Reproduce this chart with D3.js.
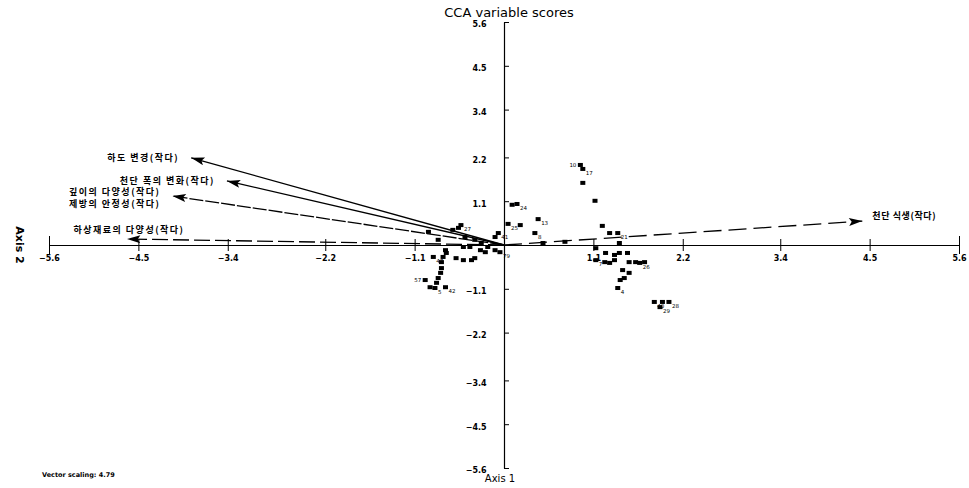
<!DOCTYPE html>
<html><head><meta charset="utf-8">
<script src="https://cdn.jsdelivr.net/npm/d3@7"></script>
<style>body{margin:0;background:#fff}svg{display:block}</style>
</head><body><div id="chart"></div>
<script>
const xTicks = [-5.6,-4.5,-3.4,-2.2,-1.1,1.1,2.2,3.4,4.5,5.6];
const yTicks = [5.6,4.5,3.4,2.2,1.1,-1.1,-2.2,-3.4,-4.5,-5.6];
const vecNames = [["하도 변경(작다)"],["천단 폭의 변화(작다)"],["깊이의 다양성(작다)","제방의 안정성(작다)"],["하상재료의 다양성(작다)"],["천단 식생(작다)"]];
const vecX = [-3.85,-3.41,-4.08,-4.64,4.41];
const vecY = [2.19,1.61,1.23,0.15,0.60];
const siteLabel = ["10","17","","","","24","25","","13","8","","","","","21","","","7","","","","","","","","","","26","","","","","","4","40","","28","29",
 "","","27","41","","","","","","","79","","","","","","","","47","","","","","","57","","5","42","","","","","",""];
const siteX = [0.94,0.97,0.97,1.12,0.10,0.16,0.05,0.20,0.42,0.38,0.75,0.48,1.21,1.30,1.40,1.42,1.13,1.13,1.24,1.25,1.36,1.42,1.30,1.36,1.52,1.54,1.62,1.67,1.73,1.46,1.54,1.43,1.48,1.40,1.85,1.95,2.03,1.92,
 -0.63,-0.56,-0.53,-0.07,-0.11,-0.48,-0.36,-0.28,-0.20,-0.11,-0.05,-0.23,-0.29,-0.42,-0.50,-0.72,-0.71,-0.75,-0.87,-0.77,-0.77,-0.78,-0.81,-0.83,-0.97,-0.91,-0.85,-0.72,-0.36,-0.40,-0.59,-0.50,-0.93,-0.81];
const siteY = [2.01,1.91,1.56,1.11,1.01,1.03,0.53,0.50,0.65,0.30,0.08,0.05,0.48,0.30,0.30,0.05,-0.08,-0.38,-0.43,-0.20,-0.25,-0.20,-0.45,-0.38,-0.20,-0.43,-0.43,-0.45,-0.43,-0.63,-0.70,-0.88,-0.83,-1.08,-1.43,-1.43,-1.43,-1.56,
 0.38,0.43,0.50,0.30,0.20,0.20,0.13,0.05,-0.05,-0.13,-0.18,-0.18,-0.13,-0.05,-0.05,-0.13,-0.20,-0.30,-0.30,-0.43,-0.58,-0.70,-0.83,-0.95,-0.88,-1.06,-1.08,-1.06,-0.33,-0.38,-0.33,-0.38,0.33,0.13];

const W=969,H=488;
const svg=d3.select("#chart").append("svg").attr("width",W).attr("height",H);
const x=d3.scaleLinear().domain([-5.6,5.6]).range([49,959]);
const y=d3.scaleLinear().domain([-5.6,5.6]).range([468,22]);
const ff="'DejaVu Sans', Verdana, sans-serif";
const kf="'Noto Sans CJK KR', sans-serif";

svg.append("defs").append("marker").attr("id","ah").attr("viewBox","0 0 10 6").attr("refX",10).attr("refY",3)
  .attr("markerWidth",26).attr("markerHeight",8).attr("markerUnits","userSpaceOnUse").attr("orient","auto")
  .append("path").attr("d","M0,0 L10,3 L0,6 L2,3 Z").attr("fill","#000");

const xa=d3.axisBottom(x).tickValues(xTicks).tickSize(0).tickFormat(d3.format(".1f"));
const gx=svg.append("g").attr("transform",`translate(0,${y(0)})`).call(xa);
gx.select(".domain").attr("stroke","#000").attr("stroke-width",1.2);
gx.selectAll(".tick text").attr("dy","1.6em").attr("font-size",8).attr("font-family",ff).attr("font-weight","bold");
gx.selectAll(".tick").append("line").attr("y1",-6).attr("y2",6).attr("stroke","#000");
gx.selectAll(".tick").filter(d=>Math.abs(d)===5.6).select("line").attr("y1",-9).attr("y2",9);

const ya=d3.axisLeft(y).tickValues(yTicks).tickSize(0).tickFormat(d3.format(".1f"));
const gy=svg.append("g").attr("transform",`translate(${x(0)},0)`).call(ya);
gy.select(".domain").attr("stroke","#000").attr("stroke-width",1.2);
gy.selectAll(".tick text").attr("dx","-1.8em").attr("dy","0.6em").attr("font-size",8).attr("font-family",ff).attr("font-weight","bold");
gy.selectAll(".tick").append("line").attr("x1",0).attr("x2",5).attr("stroke","#000");

const dashes=["none","none","14,2","16,5","18,7"];
svg.append("g").selectAll("line").data(vecX).join("line")
  .attr("x1",x(0)).attr("y1",y(0)).attr("x2",d=>x(d)).attr("y2",(d,i)=>y(vecY[i]))
  .attr("stroke","#000").attr("stroke-width",1.3).attr("stroke-dasharray",(d,i)=>dashes[i]).attr("marker-end","url(#ah)");

const lab=svg.append("g").attr("font-family",kf).attr("font-size",9).attr("font-weight","bold").attr("fill","#000");
vecNames.forEach((names,i)=>{
  const px=x(vecX[i]), py=y(vecY[i]);
  names.forEach((n,j)=>{
    const off = names.length>1 ? (j===0?-4:8) : 0;
    const t=lab.append("text").attr("letter-spacing",1.5).text(n);
    if(i===3) t.attr("x", x(-5.3)).attr("y", py-6).attr("text-anchor","start");
    else if(i===4) t.attr("x", px+10).attr("y", py-2).attr("text-anchor","start").attr("letter-spacing",0.6);
    else t.attr("x", px-12).attr("y", py+off+3).attr("text-anchor","end");
  });
});

const leftLab=new Set(["10","57"]);
const sg=svg.append("g");
sg.selectAll("rect").data(siteX).join("rect")
  .attr("x",d=>x(d)-2.5).attr("y",(d,i)=>y(siteY[i])-2).attr("width",5).attr("height",4).attr("fill","#000");
sg.selectAll("text").data(siteLabel).join("text")
  .attr("x",(d,i)=>leftLab.has(d)? x(siteX[i])-4 : x(siteX[i])+3)
  .attr("y",(d,i)=>leftLab.has(d)? y(siteY[i])+2 : y(siteY[i])+6)
  .attr("text-anchor",d=>leftLab.has(d)?"end":"start")
  .attr("font-size",5.5).attr("font-family",ff).attr("fill","#000").text(d=>d);

svg.append("text").attr("x",509).attr("y",17).attr("text-anchor","middle").attr("font-family",ff).attr("font-size",13).text("CCA variable scores");
svg.append("text").attr("x",500).attr("y",482).attr("text-anchor","middle").attr("font-family",ff).attr("font-size",10).text("Axis 1");
svg.append("text").attr("transform","translate(16,245) rotate(90)").attr("text-anchor","middle").attr("font-family",ff).attr("font-size",11).attr("font-weight","bold").text("Axis 2");
svg.append("text").attr("x",42).attr("y",477).attr("font-family",ff).attr("font-size",6.5).attr("font-weight","bold").text("Vector scaling: 4.79");
</script></body></html>
